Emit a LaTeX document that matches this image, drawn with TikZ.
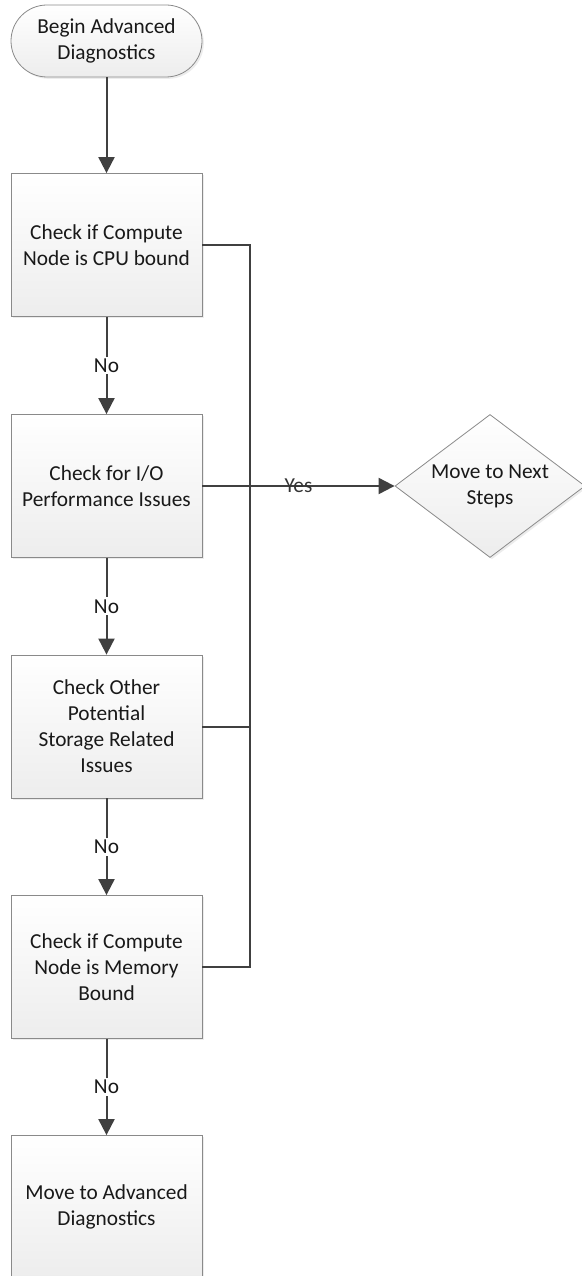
\documentclass[tikz,border=0pt]{standalone}
\usepackage{fontspec}
\setmainfont{Carlito}
\usetikzlibrary{arrows.meta,shapes.geometric,shadows}
\definecolor{edgegray}{HTML}{8A8A8A}
\definecolor{linegray}{HTML}{404040}
\definecolor{fillbot}{HTML}{EDEDED}
\tikzset{
  base/.style={draw=edgegray, line width=0.6pt, top color=white, bottom color=fillbot,
    align=center, inner sep=0pt, font=\fontsize{16}{19.5}\selectfont, text=black!90,
    drop shadow={shadow xshift=1.4pt, shadow yshift=-1.4pt, fill=black!12, opacity=0.6}},
  stepbox/.style={base, rectangle, minimum width=143.25pt, minimum height=107.25pt},
  termbox/.style={base, rectangle, rounded corners=27pt, minimum width=143.25pt, minimum height=54pt},
  decbox/.style={base, diamond, aspect=1.33, minimum width=142.5pt, minimum height=107.25pt},
  conn/.style={draw=linegray, line width=1.5pt},
  arr/.style={conn, -{Triangle[length=12pt, width=12pt]}},
  nolabel/.style={fill=white, inner sep=1.5pt, font=\fontsize{16}{19.5}\selectfont, text=black!90},
  yeslabel/.style={inner sep=0pt, font=\fontsize{16}{19.5}\selectfont, text=black!80}
}
\begin{document}
\begin{tikzpicture}[x=0.75pt, y=-0.75pt]
\useasboundingbox (0,0) rectangle (581,1276);
\node[termbox] (t) at (106.5,41) {Begin Advanced\\Diagnostics};
\node[stepbox] (b1) at (106.5,245) {Check if Compute\\Node is CPU bound};
\node[stepbox] (b2) at (106.5,486) {Check for I/O\\Performance Issues};
\node[stepbox] (b3) at (106.5,726.5) {Check Other\\Potential\\Storage Related\\Issues};
\node[stepbox] (b4) at (106.5,967) {Check if Compute\\Node is Memory\\Bound};
\node[stepbox] (b5) at (106.5,1207) {Move to Advanced\\Diagnostics};
\node[decbox] (d) at (490,486) {Move to Next\\Steps};
\coordinate (j) at (250,486);

\draw[arr] (t) -- (b1);
\draw[arr] (b1) -- node[nolabel] {No} (b2);
\draw[arr] (b2) -- node[nolabel] {No} (b3);
\draw[arr] (b3) -- node[nolabel] {No} (b4);
\draw[arr] (b4) -- node[nolabel] {No} (b5);

\draw[conn] (b1.east) -| (j);
\draw[conn] (b3.east) -| (j);
\draw[conn] (b4.east) -| (j);
\draw[arr] (b2.east) -- node[yeslabel] {Yes} (d.west);
\end{tikzpicture}
\end{document}
